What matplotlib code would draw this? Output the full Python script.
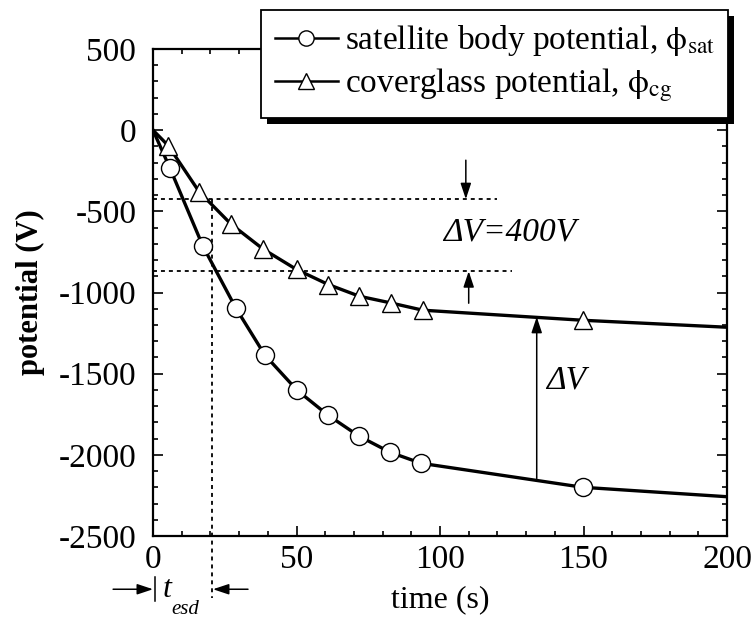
import matplotlib
matplotlib.use("Agg")
import matplotlib.pyplot as plt
from matplotlib.lines import Line2D
from matplotlib.patches import Rectangle
from matplotlib.transforms import IdentityTransform
from matplotlib.ticker import MultipleLocator

plt.rcParams['font.family'] = ['Liberation Serif', 'DejaVu Serif']
plt.rcParams['mathtext.fontset'] = 'stix'
plt.rcParams['axes.unicode_minus'] = False

# ---- data ----
t_sat = [0, 5.9, 17.4, 28.9, 39.0, 50.2, 61.0, 71.8, 82.6, 93.4, 149.8, 200]
v_sat = [0, -234, -715, -1097, -1386, -1602, -1756, -1885, -1984, -2052, -2200, -2258]
t_cg = [0, 5.3, 16.1, 27.2, 38.4, 50.0, 61.1, 71.9, 82.8, 94.0, 149.7, 200]
v_cg = [0, -95, -380, -579, -733, -858, -951, -1023, -1064, -1109, -1171, -1214]
marker_idx = slice(1, 11)

label_sat = r'satellite body potential, $\mathrm{\phi}_{\mathrm{sat}}$'
label_cg = r'coverglass potential, $\mathrm{\phi}_{\mathrm{cg}}$'

# annotation values
v_upper = -425
v_lower = -869
t_esd = 20.4
t_dv = 133.7
v_dv_low = -2146
v_dv_high = -1150

W, H = 753, 621
fig = plt.figure(figsize=(W / 100, H / 100), dpi=100)
ax = fig.add_axes([153 / W, 1 - 536 / H, (727 - 153) / W, (536 - 49) / H])

LW = 2.4
ax.plot(t_sat, v_sat, color='k', lw=LW, zorder=3)
ax.plot(t_sat[marker_idx], v_sat[marker_idx], ls='none', marker='o', ms=13,
        mfc='white', mec='k', mew=1.0, zorder=4)
ax.plot(t_cg, v_cg, color='k', lw=LW, zorder=3)
ax.plot(t_cg[marker_idx], v_cg[marker_idx], ls='none', marker='^', ms=13,
        mfc='white', mec='k', mew=1.0, zorder=4)

ax.set_xlim(0, 200)
ax.set_ylim(-2500, 500)
ax.xaxis.set_major_locator(MultipleLocator(50))
ax.xaxis.set_minor_locator(MultipleLocator(10))
ax.yaxis.set_major_locator(MultipleLocator(500))
ax.yaxis.set_minor_locator(MultipleLocator(100))
ax.tick_params(which='both', direction='in', top=True, right=True, width=1.2)
ax.tick_params(which='major', length=7)
ax.tick_params(which='minor', length=3.5)
ax.tick_params(axis='x', labelsize=24, pad=6)
ax.tick_params(axis='y', labelsize=24, pad=12)
for s in ax.spines.values():
    s.set_linewidth(1.6)

ax.set_xlabel('time (s)', fontsize=23)
ax.xaxis.label.set_va('center')
ax.xaxis.set_label_coords(0.5, (536 - 600) / 487)
ax.set_ylabel('potential (V)', fontsize=22, fontweight='bold')
ax.yaxis.label.set_va('center')
ax.yaxis.set_label_coords((30 - 153) / 574, 0.5)

# dotted guide lines
dot = dict(color='k', lw=1.3, ls=(0, (2.2, 2.2)), clip_on=False, zorder=2)
ax.plot([0, 120], [v_upper, v_upper], **dot)
ax.plot([0, 125], [v_lower, v_lower], **dot)
ax.plot([t_esd, t_esd], [v_upper, -2883], **dot)

arrow = dict(arrowstyle='-|>,head_length=0.6,head_width=0.2', color='k', lw=1.1,
             mutation_scale=16, shrinkA=0, shrinkB=0)
ax.annotate('', xy=(109, v_upper), xytext=(109, -185), arrowprops=arrow)
ax.annotate('', xy=(110, v_lower), xytext=(110, -1066), arrowprops=arrow)
ax.text(101, -628, 'ΔV=400V', fontsize=24, fontstyle='italic', va='center', ha='left')

ax.annotate('', xy=(t_dv, v_dv_high), xytext=(t_dv, v_dv_low), arrowprops=arrow)
ax.text(137, -1540, 'ΔV', fontsize=24, fontstyle='italic', va='center', ha='left')

# t_esd annotation below the axis
ax.annotate('', xy=(0, -2828), xytext=(-13.9, -2828), arrowprops=arrow,
            annotation_clip=False)
ax.annotate('', xy=(t_esd + 0.5, -2828), xytext=(33.1, -2828), arrowprops=arrow,
            annotation_clip=False)
ax.plot([0.6, 0.6], [-2754, -2902], color='k', lw=1.1, clip_on=False)
ax.text(3.3, -2828, 't', fontsize=23, fontstyle='italic', va='center', ha='left')
ax.text(6.4, -2950, 'esd', fontsize=15, fontstyle='italic', va='center', ha='left')

# legend with hard black shadow
handles = [
    Line2D([], [], color='k', lw=1.8, marker='o', ms=11, mfc='white', mec='k', mew=1.0),
    Line2D([], [], color='k', lw=1.8, marker='^', ms=11, mfc='white', mec='k', mew=1.0),
]
leg = ax.legend(handles, [label_sat, label_cg], loc='upper right',
                bbox_to_anchor=(728 / W, 1 - 10 / H), bbox_transform=fig.transFigure,
                fontsize=24, frameon=True, fancybox=False, framealpha=1,
                edgecolor='k', borderaxespad=0, handlelength=1.9, handletextpad=0.2,
                borderpad=0.4, labelspacing=0.25)
leg.get_frame().set_linewidth(1.3)
leg.set_zorder(10)
fig.canvas.draw()
bb = leg.get_window_extent()
shadow = Rectangle((bb.x0 + 6, bb.y0 - 6), bb.width, bb.height, transform=IdentityTransform(),
                   facecolor='k', edgecolor='none', zorder=9, clip_on=False)
ax.add_artist(shadow)

fig.savefig('out.png', dpi=100)
